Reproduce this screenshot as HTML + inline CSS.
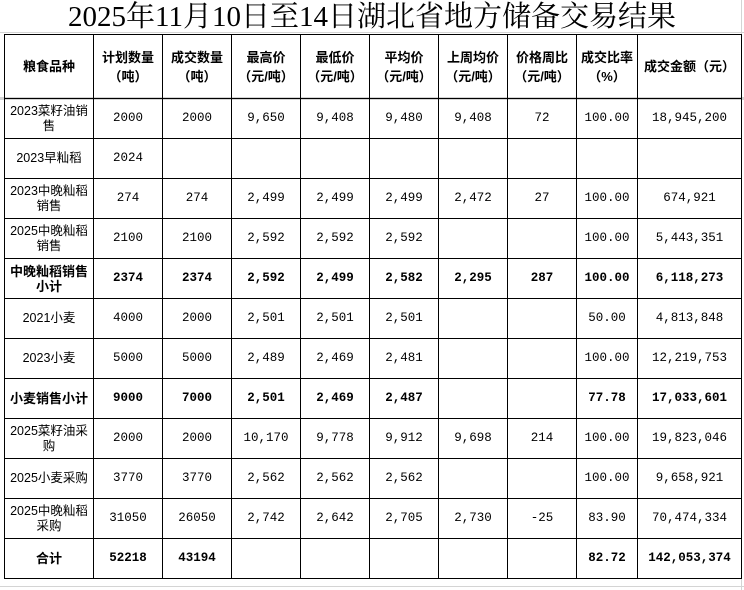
<!DOCTYPE html>
<html><head><meta charset="utf-8"><style>
body{margin:0;width:744px;height:590px;background:#fff;position:relative;overflow:hidden;font-family:"Liberation Mono","Noto Sans CJK SC",monospace;}
.title{position:absolute;left:0;top:0;width:744px;height:34px;text-align:center;font-family:"Liberation Serif","Noto Serif CJK SC",serif;font-size:29px;line-height:34px;color:#000;}
.gl{position:absolute;background:#d4d4d4;}
table{position:absolute;left:4px;top:34px;border-collapse:collapse;table-layout:fixed;}
td{border:1.5px solid #000;text-align:center;vertical-align:middle;font-size:12.5px;height:39px;padding:0 1px;line-height:15px;font-family:"Liberation Mono","Noto Sans CJK SC",monospace;}
td.n{font-family:"Liberation Sans","Noto Sans CJK SC",sans-serif;}
tr.h td{height:63px;font-weight:bold;font-family:"Liberation Sans","Noto Sans CJK SC",sans-serif;font-size:13px;line-height:19px;}
tr.b td{font-weight:bold;}
tr.b td.n{font-size:13px;}
</style></head><body>
<div class="title">2025年11月10日至14日湖北省地方储备交易结果</div>
<div class="gl" style="left:0;top:32px;width:744px;height:1px"></div>
<div class="gl" style="left:0;top:97px;width:744px;height:3px"></div>
<div class="gl" style="left:0;top:586px;width:744px;height:1px"></div>
<div class="gl" style="left:741px;top:0;width:1px;height:590px"></div>
<table>
<colgroup><col style="width:89px"><col style="width:69px"><col style="width:69px"><col style="width:69px"><col style="width:69px"><col style="width:69px"><col style="width:69px"><col style="width:69px"><col style="width:61px"><col style="width:104px"></colgroup>
<tr class="h"><td>粮食品种</td><td>计划数量<br>（吨）</td><td>成交数量<br>（吨）</td><td>最高价<br>（元/吨）</td><td>最低价<br>（元/吨）</td><td>平均价<br>（元/吨）</td><td>上周均价<br>（元/吨）</td><td>价格周比<br>（元/吨）</td><td>成交比率<br>（%）</td><td>成交金额（元）</td></tr>
<tr><td class="n">2023菜籽油销售</td><td>2000</td><td>2000</td><td>9,650</td><td>9,408</td><td>9,480</td><td>9,408</td><td>72</td><td>100.00</td><td>18,945,200</td></tr>
<tr><td class="n">2023早籼稻</td><td>2024</td><td></td><td></td><td></td><td></td><td></td><td></td><td></td><td></td></tr>
<tr><td class="n">2023中晚籼稻销售</td><td>274</td><td>274</td><td>2,499</td><td>2,499</td><td>2,499</td><td>2,472</td><td>27</td><td>100.00</td><td>674,921</td></tr>
<tr><td class="n">2025中晚籼稻销售</td><td>2100</td><td>2100</td><td>2,592</td><td>2,592</td><td>2,592</td><td></td><td></td><td>100.00</td><td>5,443,351</td></tr>
<tr class="b"><td class="n">中晚籼稻销售小计</td><td>2374</td><td>2374</td><td>2,592</td><td>2,499</td><td>2,582</td><td>2,295</td><td>287</td><td>100.00</td><td>6,118,273</td></tr>
<tr><td class="n">2021小麦</td><td>4000</td><td>2000</td><td>2,501</td><td>2,501</td><td>2,501</td><td></td><td></td><td>50.00</td><td>4,813,848</td></tr>
<tr><td class="n">2023小麦</td><td>5000</td><td>5000</td><td>2,489</td><td>2,469</td><td>2,481</td><td></td><td></td><td>100.00</td><td>12,219,753</td></tr>
<tr class="b"><td class="n">小麦销售小计</td><td>9000</td><td>7000</td><td>2,501</td><td>2,469</td><td>2,487</td><td></td><td></td><td>77.78</td><td>17,033,601</td></tr>
<tr><td class="n">2025菜籽油采购</td><td>2000</td><td>2000</td><td>10,170</td><td>9,778</td><td>9,912</td><td>9,698</td><td>214</td><td>100.00</td><td>19,823,046</td></tr>
<tr><td class="n">2025小麦采购</td><td>3770</td><td>3770</td><td>2,562</td><td>2,562</td><td>2,562</td><td></td><td></td><td>100.00</td><td>9,658,921</td></tr>
<tr><td class="n">2025中晚籼稻采购</td><td>31050</td><td>26050</td><td>2,742</td><td>2,642</td><td>2,705</td><td>2,730</td><td>-25</td><td>83.90</td><td>70,474,334</td></tr>
<tr class="b"><td class="n">合计</td><td>52218</td><td>43194</td><td></td><td></td><td></td><td></td><td></td><td>82.72</td><td>142,053,374</td></tr>
</table>
</body></html>
